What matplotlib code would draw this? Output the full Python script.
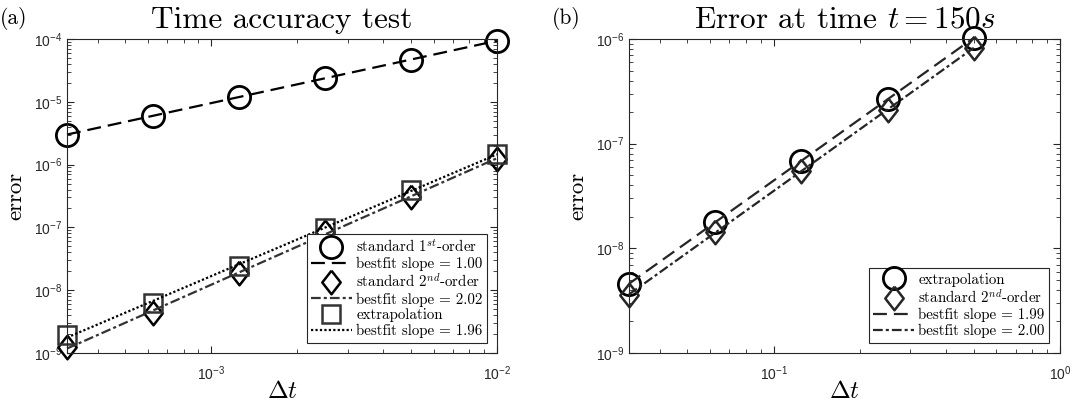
import numpy as np
import matplotlib
matplotlib.use("Agg")
import matplotlib.pyplot as plt
from matplotlib.ticker import FixedLocator, FuncFormatter, NullFormatter

plt.rcParams['mathtext.fontset'] = 'cm'
plt.rcParams['lines.scale_dashes'] = False

# ---- data (a) ----
dt_a = [3.125e-4, 6.25e-4, 1.25e-3, 2.5e-3, 5e-3, 1e-2]
err_first = [3.0e-6, 6.0e-6, 1.2e-5, 2.35e-5, 4.7e-5, 9.4e-5]
err_second = [1.25e-9, 4.3e-9, 1.9e-8, 8.3e-8, 3.1e-7, 1.25e-6]
err_extrap = [1.95e-9, 6.3e-9, 2.4e-8, 9.8e-8, 3.9e-7, 1.5e-6]
labels_a = [r'standard 1$^{st}$-order', 'bestfit slope = 1.00',
            r'standard 2$^{nd}$-order', 'bestfit slope = 2.02',
            'extrapolation', 'bestfit slope = 1.96']

# ---- data (b) ----
dt_b = [0.03125, 0.0625, 0.125, 0.25, 0.5]
err_b_extrap = [4.6e-9, 1.78e-8, 6.8e-8, 2.65e-7, 1.03e-6]
err_b_second = [3.6e-9, 1.42e-8, 5.5e-8, 2.12e-7, 8.2e-7]
labels_b = ['extrapolation', r'standard 2$^{nd}$-order',
            'bestfit slope = 1.99', 'bestfit slope = 2.00']

TXT = 'cmr10'
TICKF = 'Liberation Sans'
diamond = [(0, 1), (0.78, 0), (0, -1), (-0.78, 0), (0, 1)]

C_BLACK = '#000000'
LW = 1.6
DASH = (0, (10, 5))
DASHDOT = (0, (7, 2.2, 2.2, 2.2))
DOT = (0, (1.6, 1.6))
LEG_FS = 10.8


def fit(x, y):
    lx, ly = np.log10(x), np.log10(y)
    p = np.polyfit(lx, ly, 1)
    xx = np.array([min(x), max(x)])
    return xx, 10 ** np.polyval(p, np.log10(xx))


def fmt(v, pos):
    e = int(round(np.log10(v)))
    return r'$\mathregular{10^{%d}}$' % e


def log_ticks(lo, hi):
    e0, e1 = int(np.floor(np.log10(lo))), int(np.ceil(np.log10(hi)))
    major = [10.0 ** e for e in range(e0, e1 + 1) if lo * 0.999 <= 10.0 ** e <= hi * 1.001]
    minor = [m * 10.0 ** e for e in range(e0, e1 + 1) for m in range(2, 10)
             if lo < m * 10.0 ** e < hi]
    return major, minor


def style(ax, xlim, ylim):
    ax.set_xscale('log')
    ax.set_yscale('log')
    ax.set_xlim(*xlim)
    ax.set_ylim(*ylim)
    for a, lim in ((ax.xaxis, xlim), (ax.yaxis, ylim)):
        major, minor = log_ticks(*lim)
        a.set_major_locator(FixedLocator(major))
        a.set_minor_locator(FixedLocator(minor))
        a.set_major_formatter(FuncFormatter(fmt))
        a.set_minor_formatter(NullFormatter())
    ax.tick_params(which='both', direction='in', top=True, right=True,
                   color='#262626', labelsize=10, labelcolor='#262626')
    ax.tick_params(which='major', length=5, width=0.8)
    ax.tick_params(which='minor', length=2.8, width=0.6)
    ax.tick_params(axis='x', which='major', pad=8)
    for lab in ax.get_xticklabels() + ax.get_yticklabels():
        lab.set_family(TICKF)
    for s in ax.spines.values():
        s.set_color('#262626')
        s.set_linewidth(0.8)
    ax.set_xlabel(r'$\Delta t$', fontsize=18, labelpad=-3)
    ax.set_ylabel('error', fontsize=16.5, family=TXT, labelpad=6)


fig = plt.figure(figsize=(10.78, 4.12), dpi=100)
ax1 = fig.add_axes([67 / 1078, 59 / 412, 430 / 1078, 314 / 412])
ax2 = fig.add_axes([629 / 1078, 59 / 412, 431 / 1078, 314 / 412])

leg_kw = dict(prop={'family': TXT, 'size': LEG_FS}, fancybox=False,
              edgecolor='#262626', framealpha=1, handlelength=2.7,
              handletextpad=0.3, labelspacing=0.12, borderpad=0.3,
              borderaxespad=0, loc='lower right')

# ---- panel (a) ----
h1, = ax1.plot(dt_a, err_first, 'o', ms=16, mfc='none', mec=C_BLACK, mew=2.0, ls='none')
x, y = fit(dt_a, err_first)
h2, = ax1.plot(x, y, color=C_BLACK, lw=LW, ls=DASH)
h3, = ax1.plot(dt_a, err_second, marker=diamond, ms=17, mfc='none', mec=C_BLACK, mew=1.8, ls='none')
x, y = fit(dt_a, err_second)
h4, = ax1.plot(x, y, color='#333333', lw=LW, ls=DASHDOT)
h5, = ax1.plot(dt_a, err_extrap, 's', ms=13, mfc='none', mec='#333333', mew=1.8, ls='none')
x, y = fit(dt_a, err_extrap)
h6, = ax1.plot(x, y, color=C_BLACK, lw=LW, ls=DOT)
for h in (h1, h2, h3, h4, h5, h6):
    h.set_clip_on(False)
style(ax1, (3.125e-4, 1e-2), (1e-9, 1e-4))
leg1 = ax1.legend([h1, h2, h3, h4, h5, h6], labels_a,
                  bbox_to_anchor=(0.977, 0.032), **leg_kw)
leg1.get_frame().set_linewidth(0.8)
ax1.set_title('Time accuracy test', family=TXT, fontsize=22.5, pad=8)
fig.text(0.0, 0.955, '(a)', family=TXT, fontsize=15.5, ha='left', va='center')

# ---- panel (b) ----
g1, = ax2.plot(dt_b, err_b_extrap, 'o', ms=16, mfc='none', mec=C_BLACK, mew=2.0, ls='none')
g2, = ax2.plot(dt_b, err_b_second, marker=diamond, ms=17, mfc='none', mec='#262626', mew=1.8, ls='none')
x, y = fit(dt_b, err_b_extrap)
g3, = ax2.plot(x, y, color='#262626', lw=LW, ls=DASH)
x, y = fit(dt_b, err_b_second)
g4, = ax2.plot(x, y, color='#262626', lw=LW, ls=DASHDOT)
for h in (g1, g2, g3, g4):
    h.set_clip_on(False)
style(ax2, (0.03125, 1.0), (1e-9, 1e-6))
leg2 = ax2.legend([g1, g2, g3, g4], labels_b,
                  bbox_to_anchor=(0.975, 0.032), **leg_kw)
leg2.get_frame().set_linewidth(0.8)
ax2.set_title(r'Error at time $t = 150s$', family=TXT, fontsize=22.5, pad=8)
fig.text(552 / 1078, 0.955, '(b)', family=TXT, fontsize=15.5, ha='left', va='center')

fig.savefig('out.png', dpi=100)
